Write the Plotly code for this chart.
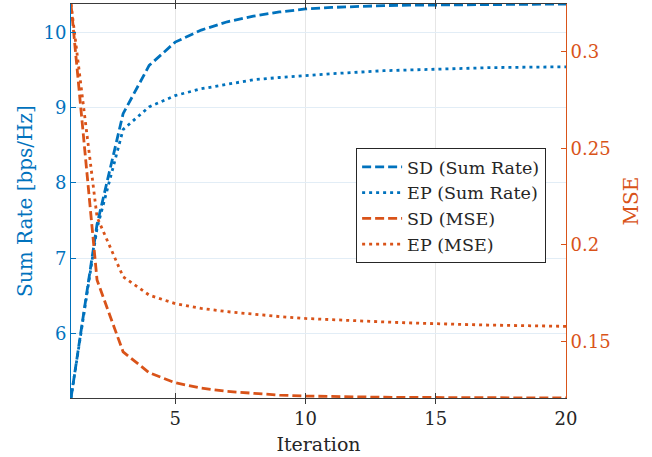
import plotly.graph_objects as go

# Iteration index
iterations = list(range(1, 21))

# Sum rate [bps/Hz] per iteration
sd_rate = [5.144, 7.45, 8.92, 9.56, 9.87, 10.03, 10.14, 10.215, 10.27, 10.31,
           10.33, 10.345, 10.355, 10.36, 10.363, 10.366, 10.369, 10.371, 10.373, 10.376]
ep_rate = [5.144, 7.40, 8.71, 9.01, 9.16, 9.25, 9.31, 9.37, 9.40, 9.428,
           9.45, 9.47, 9.49, 9.50, 9.512, 9.52, 9.53, 9.535, 9.54, 9.542]

# MSE per iteration
sd_mse = [0.3247, 0.1817, 0.1445, 0.1337, 0.1285, 0.1257, 0.1240, 0.1229, 0.1221, 0.1216,
          0.1213, 0.1211, 0.1210, 0.1209, 0.1208, 0.1208, 0.1207, 0.1207, 0.1206, 0.1206]
ep_mse = [0.3247, 0.2143, 0.1834, 0.1739, 0.1695, 0.1670, 0.1653, 0.1640, 0.1628, 0.1618,
          0.1611, 0.1605, 0.1600, 0.1595, 0.1590, 0.1587, 0.1584, 0.1581, 0.1579, 0.1577]

x_ticks = [5, 10, 15, 20]
rate_ticks = [6, 7, 8, 9, 10]
mse_ticks = [0.15, 0.2, 0.25, 0.3]
mse_tick_text = ["0.15", "0.2", "0.25", "0.3"]

BLUE = "#0072BD"
ORANGE = "#D95319"
FONT = "DejaVu Serif"
LW = 2.8
DASH = "9px,4px"
DOT = "3px,4px"

fig = go.Figure()
fig.add_trace(go.Scatter(x=iterations, y=sd_rate, mode="lines", name="SD (Sum Rate)",
                         line=dict(color=BLUE, width=LW, dash=DASH), yaxis="y"))
fig.add_trace(go.Scatter(x=iterations, y=ep_rate, mode="lines", name="EP (Sum Rate)",
                         line=dict(color=BLUE, width=LW, dash=DOT), yaxis="y"))
fig.add_trace(go.Scatter(x=iterations, y=sd_mse, mode="lines", name="SD (MSE)",
                         line=dict(color=ORANGE, width=LW, dash=DASH), yaxis="y2"))
fig.add_trace(go.Scatter(x=iterations, y=ep_mse, mode="lines", name="EP (MSE)",
                         line=dict(color=ORANGE, width=LW, dash=DOT), yaxis="y2"))

fig.update_layout(
    width=652, height=457,
    margin=dict(l=71, r=86, t=4, b=59),
    paper_bgcolor="white", plot_bgcolor="white",
    font=dict(family=FONT, size=18, color="#262626"),
    showlegend=True,
    legend=dict(x=0.576, y=0.6345, xanchor="left", yanchor="top",
                bgcolor="white", bordercolor="#262626", borderwidth=1,
                font=dict(family=FONT, size=17.5, color="#262626"),
                tracegroupgap=0, itemwidth=40),
    xaxis=dict(
        range=[1, 20], tickvals=x_ticks, ticktext=[str(v) for v in x_ticks],
        showgrid=True, gridcolor="#e6e6e6", gridwidth=1, zeroline=False,
        showline=True, linecolor="#3a3a3a", linewidth=1, mirror="allticks",
        ticks="inside", ticklen=5, tickcolor="#3a3a3a", ticklabelstandoff=4,
        tickfont=dict(family=FONT, size=18, color="#262626"),
        title=dict(text="Iteration", font=dict(family=FONT, size=19, color="#262626"),
                   standoff=10),
    ),
    yaxis=dict(
        range=[5.144, 10.376], tickvals=rate_ticks,
        showgrid=True, gridcolor="#e2edf6", gridwidth=1, zeroline=False,
        showline=True, linecolor=BLUE, linewidth=1,
        ticks="inside", ticklen=5, tickcolor=BLUE,
        tickfont=dict(family=FONT, size=18, color=BLUE),
        title=dict(text="Sum Rate [bps/Hz]", font=dict(family=FONT, size=20, color=BLUE),
                   standoff=5),
    ),
    yaxis2=dict(
        range=[0.1206, 0.3247], tickvals=mse_ticks, ticktext=mse_tick_text,
        overlaying="y", side="right", anchor="x",
        showgrid=False, zeroline=False,
        showline=True, linecolor=ORANGE, linewidth=1,
        ticks="inside", ticklen=5, tickcolor=ORANGE,
        tickfont=dict(family=FONT, size=18, color=ORANGE),
        title=dict(text="MSE", font=dict(family=FONT, size=20, color=ORANGE),
                   standoff=14),
    ),
)

fig.write_html("out.html")
